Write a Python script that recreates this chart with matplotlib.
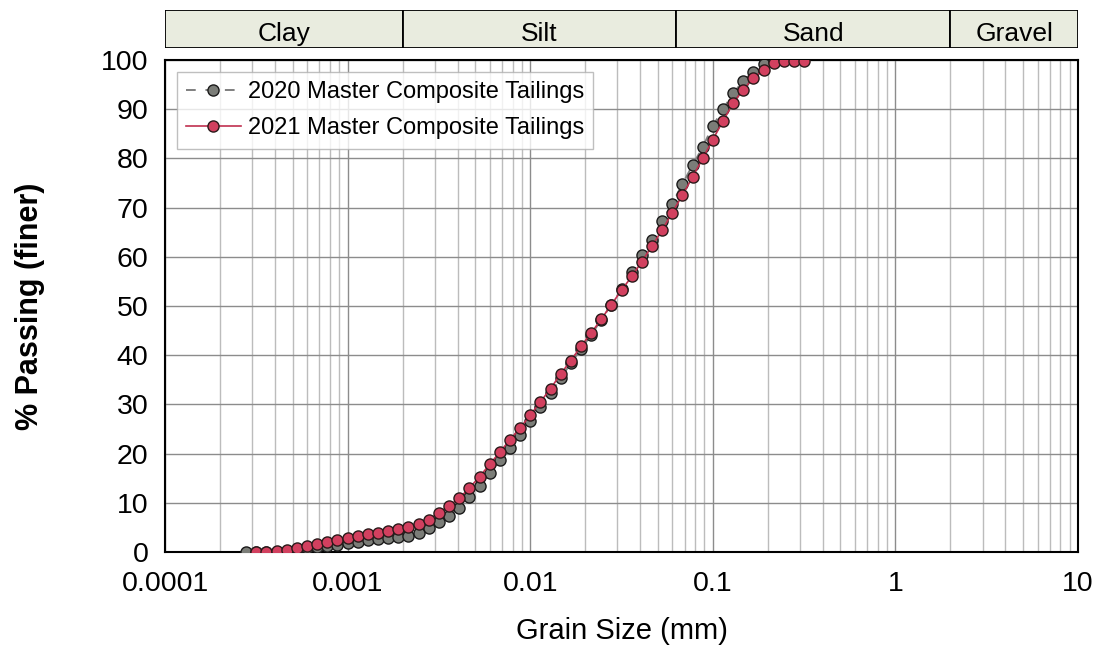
import numpy as np
import matplotlib.pyplot as plt
from matplotlib.ticker import FixedLocator, LogLocator, NullFormatter

plt.rcParams['font.family'] = ['Liberation Sans', 'DejaVu Sans']

# ==== DATA ====
size_2020 = [0.000278, 0.000316, 0.000359, 0.000408, 0.000464, 0.000527, 0.000599,
             0.000681, 0.000774, 0.000880, 0.001000, 0.001136, 0.001292, 0.001468,
             0.001668, 0.001896, 0.002154, 0.002448, 0.002783, 0.003162, 0.003594,
             0.004084, 0.004642, 0.005275, 0.005995, 0.006813, 0.007743, 0.008799,
             0.01000, 0.01136, 0.01292, 0.01468, 0.01668, 0.01896, 0.02154, 0.02448,
             0.02783, 0.03162, 0.03594, 0.04084, 0.04642, 0.05275, 0.05995, 0.06813,
             0.07743, 0.08799, 0.1000, 0.1136, 0.1292, 0.1468, 0.1668, 0.1896, 0.2154]
pass_2020 = [0, 0, 0, 0.1, 0.3, 0.5, 0.8, 1.1, 1.3, 1.5, 1.8, 2.1, 2.4, 2.7, 2.9, 3.0,
             3.3, 3.9, 4.8, 6.1, 7.4, 9.0, 11.1, 13.4, 16.0, 18.6, 21.1, 23.7, 26.6,
             29.5, 32.3, 35.3, 38.4, 41.2, 44.1, 47.2, 50.3, 53.4, 56.9, 60.3, 63.5,
             67.3, 70.8, 74.8, 78.6, 82.3, 86.6, 90.0, 93.2, 95.8, 97.6, 99.2, 99.5]

size_2021 = [0.000316, 0.000359, 0.000408, 0.000464, 0.000527, 0.000599, 0.000681,
             0.000774, 0.000880, 0.001000, 0.001136, 0.001292, 0.001468, 0.001668,
             0.001896, 0.002154, 0.002448, 0.002783, 0.003162, 0.003594, 0.004084,
             0.004642, 0.005275, 0.005995, 0.006813, 0.007743, 0.008799, 0.01000,
             0.01136, 0.01292, 0.01468, 0.01668, 0.01896, 0.02154, 0.02448, 0.02783,
             0.03162, 0.03594, 0.04084, 0.04642, 0.05275, 0.05995, 0.06813, 0.07743,
             0.08799, 0.1000, 0.1136, 0.1292, 0.1468, 0.1668, 0.1896, 0.2154, 0.2448,
             0.2783, 0.3162]
pass_2021 = [0, 0, 0.2, 0.4, 0.8, 1.2, 1.6, 2.0, 2.5, 2.9, 3.3, 3.6, 3.9, 4.3, 4.7,
             5.0, 5.6, 6.6, 8.0, 9.4, 10.9, 13.0, 15.3, 17.8, 20.3, 22.8, 25.2, 27.8,
             30.5, 33.2, 36.2, 38.9, 41.8, 44.5, 47.3, 50.3, 53.2, 56.0, 59.0, 62.2,
             65.4, 69.0, 72.5, 76.2, 80.0, 83.8, 87.6, 91.2, 94.0, 96.3, 98.0, 99.3,
             99.7, 99.8, 99.9]

# soil classes and their bounds (mm)
classes = ['Clay', 'Silt', 'Sand', 'Gravel']
class_bounds = [0.0001, 0.002, 0.063, 2.0, 10.0]

x_ticks = [0.0001, 0.001, 0.01, 0.1, 1, 10]
x_ticklabels = ['0.0001', '0.001', '0.01', '0.1', '1', '10']

# ==== FIGURE ====
fig = plt.figure(figsize=(10.98, 6.46), dpi=100)
ax = fig.add_axes([0.1503, 0.1455, 0.8315, 0.7616])
band = fig.add_axes([0.1503, 0.9257, 0.8315, 0.0588])

ax.set_xscale('log')
ax.set_xlim(0.0001, 10)
ax.set_ylim(0, 100)

ax.plot(size_2020, pass_2020, linestyle=(0, (5, 5)), color='#7f7f7f', lw=1.4,
        marker='o', ms=8, mfc='#7b7d78', mec='#1a1a1a', mew=1.0,
        label='2020 Master Composite Tailings', zorder=3)
ax.plot(size_2021, pass_2021, linestyle='-', color='#c0304f', lw=1.2,
        marker='o', ms=8, mfc='#d2405f', mec='#2a1a1a', mew=1.0,
        label='2021 Master Composite Tailings', zorder=4)

ax.xaxis.set_major_locator(FixedLocator(x_ticks))
ax.set_xticklabels(x_ticklabels)
ax.xaxis.set_minor_locator(LogLocator(base=10, subs=np.arange(2, 10)))
ax.xaxis.set_minor_formatter(NullFormatter())
ax.set_yticks(np.arange(0, 101, 10))

ax.grid(True, which='major', color='#8c8c8c', lw=1.0, zorder=0)
ax.grid(True, which='minor', axis='x', color='#bcbcbc', lw=1.0, zorder=0)
ax.tick_params(which='both', length=0, labelsize=20.5)
ax.tick_params(axis='x', pad=14)
ax.tick_params(axis='y', pad=12)
for s in ax.spines.values():
    s.set_linewidth(1.5)
    s.set_color('black')

ax.set_xlabel('Grain Size (mm)', fontsize=21, labelpad=14)
ax.set_ylabel('% Passing (finer)', fontsize=22, fontweight='bold', labelpad=40)

leg = ax.legend(loc='upper left', fontsize=17, frameon=True, fancybox=False,
                borderaxespad=0.5, handlelength=2.3, handletextpad=0.3,
                borderpad=0.4, labelspacing=0.6)
leg.get_frame().set_edgecolor('#b0b0b0')
leg.get_frame().set_linewidth(1.0)

# ==== SOIL CLASS BAND ====
band.set_xscale('log')
band.set_xlim(0.0001, 10)
band.set_ylim(0, 1)
band.axis('off')
for name, lo, hi in zip(classes, class_bounds[:-1], class_bounds[1:]):
    band.axvspan(lo, hi, ymin=0, ymax=1, facecolor='#e9ecdf', edgecolor='black', lw=1.3)
    band.text(np.sqrt(lo * hi), 0.38, name, ha='center', va='center', fontsize=19)

fig.savefig('out.png', dpi=100)
